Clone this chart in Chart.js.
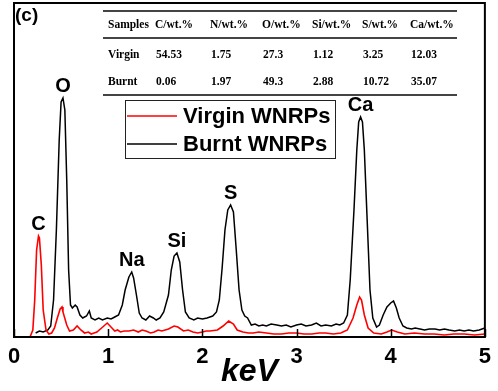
<!DOCTYPE html>
<html>
<head>
<meta charset="utf-8">
<script src="https://cdn.jsdelivr.net/npm/chart.js@4/dist/chart.umd.min.js"></script>
<style>
  html, body { margin: 0; padding: 0; background: #fff; }
  canvas { display: block; }
</style>
</head>
<body>
<canvas id="eds" width="498" height="391"></canvas>
<script>
// ===================
// EDS spectra data (keV vs counts, a.u.)
// ===================
const seriesNames = ['Virgin WNRPs', 'Burnt WNRPs'];

const virginEnergy = [0.17, 0.20, 0.22, 0.24, 0.26, 0.27, 0.29, 0.31, 0.34, 0.37, 0.40, 0.43, 0.46, 0.49, 0.51, 0.52,
  0.56, 0.59, 0.63, 0.67, 0.71, 0.75, 0.79, 0.82, 0.85, 0.88, 0.93, 0.99, 1.03, 1.07, 1.10, 1.13, 1.17, 1.22, 1.27,
  1.32, 1.36, 1.40, 1.45, 1.49, 1.53, 1.57, 1.64, 1.70, 1.74, 1.80, 1.85, 1.90, 1.95, 2.00, 2.04, 2.08, 2.16, 2.22,
  2.28, 2.33, 2.37, 2.43, 2.49, 2.54, 2.60, 2.68, 2.76, 2.84, 2.92, 3.00, 3.08, 3.16, 3.24, 3.31, 3.39, 3.47, 3.54,
  3.60, 3.64, 3.67, 3.69, 3.72, 3.76, 3.82, 3.90, 3.96, 4.01, 4.07, 4.15, 4.25, 4.36, 4.46, 4.57, 4.67, 4.78, 4.89, 5.00];
const virginCounts = [0, 7, 37, 87, 101, 99, 72, 27, 7, 3, 4, 9, 19, 28, 30, 25,
  12, 6, 7, 11, 7, 4, 5, 3, 4, 5, 9, 14, 10, 6, 7, 5, 6, 6, 7,
  5, 7, 6, 4, 5, 7, 6, 8, 11, 10, 6, 7, 5, 4, 5, 6, 6, 7, 11,
  16, 13, 7, 5, 4, 4, 5, 4, 3, 3, 4, 4, 3, 3, 4, 4, 3, 4, 7,
  19, 32, 40, 37, 22, 9, 4, 3, 5, 7, 5, 3, 4, 3, 3, 2, 3, 3, 2, 3];

const burntEnergy = [0.23, 0.27, 0.31, 0.36, 0.39, 0.42, 0.45, 0.48, 0.50, 0.52, 0.54, 0.56, 0.58, 0.60, 0.62, 0.65,
  0.67, 0.70, 0.73, 0.77, 0.80, 0.82, 0.86, 0.90, 0.94, 0.99, 1.03, 1.07, 1.11, 1.15, 1.18, 1.22, 1.25, 1.27, 1.30,
  1.33, 1.36, 1.40, 1.44, 1.48, 1.51, 1.55, 1.59, 1.64, 1.67, 1.70, 1.73, 1.76, 1.79, 1.82, 1.86, 1.91, 1.95, 2.00,
  2.05, 2.11, 2.15, 2.18, 2.21, 2.24, 2.27, 2.30, 2.33, 2.36, 2.39, 2.42, 2.45, 2.48, 2.52, 2.56, 2.60, 2.64, 2.68,
  2.73, 2.79, 2.84, 2.89, 2.94, 3.00, 3.05, 3.10, 3.16, 3.21, 3.26, 3.31, 3.37, 3.42, 3.46, 3.50, 3.54, 3.57, 3.61,
  3.64, 3.66, 3.68, 3.70, 3.72, 3.75, 3.78, 3.81, 3.85, 3.88, 3.92, 3.96, 4.00, 4.03, 4.06, 4.09, 4.13, 4.17, 4.22,
  4.26, 4.31, 4.36, 4.41, 4.47, 4.52, 4.57, 4.62, 4.68, 4.73, 4.78, 4.83, 4.88, 4.94, 5.00];
const burntCounts = [4, 6, 5, 7, 11, 37, 107, 197, 235, 239, 227, 157, 67, 32, 29, 32,
  30, 22, 19, 21, 26, 19, 17, 19, 17, 19, 18, 20, 22, 32, 47, 60, 65, 59, 42,
  24, 19, 17, 21, 19, 17, 19, 25, 42, 67, 81, 84, 75, 47, 25, 19, 17, 19, 18,
  19, 21, 25, 37, 69, 107, 127, 132, 125, 87, 47, 27, 21, 19, 12, 13, 11, 12, 11,
  13, 12, 11, 12, 10, 12, 13, 11, 12, 14, 11, 12, 11, 13, 12, 14, 22, 57, 127,
  187, 215, 220, 215, 187, 117, 47, 19, 10, 12, 22, 30, 34, 36, 29, 19, 11, 9, 8,
  9, 8, 7, 8, 8, 7, 8, 7, 6, 7, 6, 7, 6, 7, 9];

// peak assignments
const peakNames = ['C', 'O', 'Na', 'Si', 'S', 'Ca'];
const peakEnergies = [0.26, 0.52, 1.25, 1.73, 2.30, 3.68];

// composition table (wt.%)
const tableHeaders = ['Samples', 'C/wt.%', 'N/wt.%', 'O/wt.%', 'Si/wt.%', 'S/wt.%', 'Ca/wt.%'];
const sampleNames = ['Virgin', 'Burnt'];
const virginWt = ['54.53', '1.75', '27.3', '1.12', '3.25', '12.03'];
const burntWt = ['0.06', '1.97', '49.3', '2.88', '10.72', '35.07'];

const xTicks = [0, 1, 2, 3, 4, 5];

const SANS = '"Liberation Sans", Arial, sans-serif';
const SERIF = '"Liberation Serif", "Times New Roman", serif';

const toPoints = (xs, ys) => xs.map((x, i) => ({ x: x, y: ys[i] }));

// ===================
// Overlay plugin: frame, ticks, labels, legend, table
// ===================
const overlay = {
  id: 'overlay',
  afterDatasetsDraw(chart) {
    const ctx = chart.ctx;
    const area = chart.chartArea;
    const xs = chart.scales.x;
    const ys = chart.scales.y;
    ctx.save();

    // frame
    ctx.strokeStyle = '#000';
    ctx.lineWidth = 2;
    ctx.strokeRect(area.left, area.top, area.right - area.left, area.bottom - area.top);

    // inward tick marks
    ctx.lineWidth = 1.5;
    xTicks.forEach(v => {
      const px = Math.round(xs.getPixelForValue(v)) + 0.5;
      ctx.beginPath();
      ctx.moveTo(px, area.bottom);
      ctx.lineTo(px, area.bottom - 8);
      ctx.stroke();
    });

    // peak labels above the highest curve
    ctx.fillStyle = '#000';
    ctx.font = 'bold 20px ' + SANS;
    ctx.textAlign = 'center';
    ctx.textBaseline = 'alphabetic';
    peakNames.forEach((name, i) => {
      const e = peakEnergies[i];
      let top = 0;
      [[virginEnergy, virginCounts], [burntEnergy, burntCounts]].forEach(([ex, cy]) => {
        ex.forEach((x, j) => { if (Math.abs(x - e) <= 0.03) top = Math.max(top, cy[j]); });
      });
      ctx.fillText(name, xs.getPixelForValue(e), ys.getPixelForValue(top) - 6);
    });

    // panel letter
    ctx.font = 'bold 19px ' + SANS;
    ctx.textAlign = 'left';
    ctx.fillText('(c)', 15, 21);

    // table
    const colX = [108, 155, 210, 262, 312, 362, 410];
    ctx.strokeStyle = '#444';
    ctx.lineWidth = 2;
    [11, 38, 95].forEach(y => {
      ctx.beginPath();
      ctx.moveTo(103, y);
      ctx.lineTo(457, y);
      ctx.stroke();
    });
    ctx.fillStyle = '#000';
    ctx.font = 'bold 11.5px ' + SERIF;
    ctx.textBaseline = 'middle';
    tableHeaders.forEach((h, i) => ctx.fillText(h, colX[i], 25));
    [virginWt, burntWt].forEach((row, r) => {
      const y = r === 0 ? 55 : 82;
      ctx.fillText(sampleNames[r], colX[0], y);
      row.forEach((v, i) => ctx.fillText(v, colX[i + 1] + 1, y));
    });

    // legend
    ctx.strokeStyle = '#222';
    ctx.lineWidth = 1;
    ctx.strokeRect(125.5, 100.5, 210, 58);
    ctx.font = 'bold 22px ' + SANS;
    ctx.fillStyle = '#000';
    chart.data.datasets.forEach((ds, i) => {
      const y = 116 + i * 28;
      ctx.strokeStyle = ds.borderColor;
      ctx.lineWidth = 1.5;
      ctx.beginPath();
      ctx.moveTo(127, y);
      ctx.lineTo(177, y);
      ctx.stroke();
      ctx.fillText(ds.label, 183, y + 1);
    });

    ctx.restore();
  }
};

// ===================
// Chart
// ===================
new Chart(document.getElementById('eds'), {
  type: 'line',
  data: {
    datasets: [
      { label: seriesNames[0], data: toPoints(virginEnergy, virginCounts), borderColor: '#ff0000', borderWidth: 1.6 },
      { label: seriesNames[1], data: toPoints(burntEnergy, burntCounts), borderColor: '#000000', borderWidth: 1.5 }
    ]
  },
  options: {
    responsive: false,
    animation: false,
    devicePixelRatio: 1,
    layout: { padding: { left: 14, right: 7, top: 3, bottom: 0 } },
    elements: { point: { radius: 0 }, line: { tension: 0, fill: false } },
    plugins: { legend: { display: false }, tooltip: { enabled: false } },
    scales: {
      x: {
        type: 'linear',
        min: 0,
        max: 5,
        afterFit: scale => { scale.height = 54; },
        afterBuildTicks: scale => { scale.ticks = xTicks.map(v => ({ value: v })); },
        grid: { display: false, drawTicks: false },
        border: { display: false },
        ticks: { color: '#000', padding: 7, font: { family: SANS, size: 22, weight: 'bold' } },
        title: {
          display: true,
          text: 'keV',
          color: '#000',
          padding: { top: 0, bottom: 0 },
          font: { family: SANS, size: 32, weight: 'bold', style: 'italic' }
        }
      },
      y: { display: false, min: 0, max: 334 }
    }
  },
  plugins: [overlay]
});
</script>
</body>
</html>
